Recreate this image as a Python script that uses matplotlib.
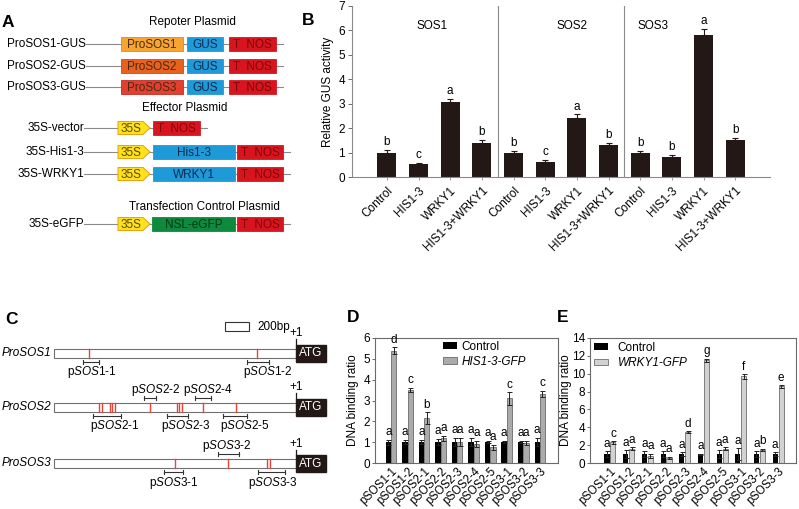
import numpy as np
import matplotlib
matplotlib.use('Agg')
import matplotlib.pyplot as plt
from matplotlib.patches import Rectangle, Polygon

plt.rcParams['font.family'] = ['Liberation Sans', 'DejaVu Sans']
plt.rcParams['mathtext.fontset'] = 'custom'
plt.rcParams['mathtext.rm'] = 'Liberation Sans'
plt.rcParams['mathtext.it'] = 'Liberation Sans:italic'
plt.rcParams['font.size'] = 8.5

W, H = 799, 509

# ---------------- data ----------------
# panel B: relative GUS activity
gus_treat = ['Control', 'HIS1-3', 'WRKY1', 'HIS1-3+WRKY1']
gus_genes = ['SOS1', 'SOS2', 'SOS3']
gus_mean = [1.0, 0.52, 3.05, 1.38,
            1.0, 0.60, 2.42, 1.30,
            1.0, 0.80, 5.80, 1.52]
gus_err = [0.12, 0.07, 0.13, 0.12,
           0.08, 0.08, 0.14, 0.10,
           0.08, 0.12, 0.25, 0.08]
gus_letters = ['b', 'c', 'a', 'b', 'b', 'c', 'a', 'b', 'b', 'b', 'a', 'b']

# panels D/E: ChIP fragments
frag_names = ['SOS1-1', 'SOS1-2', 'SOS2-1', 'SOS2-2', 'SOS2-3',
              'SOS2-4', 'SOS2-5', 'SOS3-1', 'SOS3-2', 'SOS3-3']
d_ctrl = [1.0, 1.0, 1.0, 1.0, 1.0, 1.0, 1.02, 1.0, 1.0, 1.0]
d_ctrl_err = [0.12, 0.1, 0.1, 0.15, 0.2, 0.2, 0.05, 0.06, 0.06, 0.2]
d_his = [5.4, 3.5, 2.15, 1.18, 1.0, 0.9, 0.75, 3.1, 0.95, 3.3]
d_his_err = [0.15, 0.1, 0.28, 0.12, 0.2, 0.15, 0.12, 0.3, 0.1, 0.15]
d_let_ctrl = list('aaaaaaaaaa')
d_let_his = list('dcbaaaacac')

e_ctrl = [1.0, 1.0, 1.0, 1.0, 1.0, 1.0, 1.0, 1.0, 1.0, 1.0]
e_ctrl_err = [0.3, 0.45, 0.3, 0.3, 0.2, 0.05, 0.45, 0.65, 0.3, 0.2]
e_wrky = [2.3, 1.6, 0.8, 0.6, 3.45, 11.5, 1.6, 9.7, 1.5, 8.6]
e_wrky_err = [0.15, 0.15, 0.25, 0.1, 0.08, 0.2, 0.15, 0.25, 0.1, 0.15]
e_let_ctrl = list('aaaaaaaaaa')
e_let_wrky = list('caaadgafbe')

# panel C: promoter maps (bp upstream of ATG)
prom_len = 2000
sos1_sites = [-1711, -325]
sos2_sites = [-1626, -1603, -1537, -1518, -1496, -1207, -986, -964, -942, -766, -498]
sos3_sites = [-1000, -560, -237, -215]
# (name, start, end, above)
sos1_frags = [('1-1', -1763, -1631, False), ('1-2', -402, -221, False)]
sos2_frags = [('2-1', -1675, -1449, False), ('2-2', -1254, -1160, True),
              ('2-3', -1066, -890, False), ('2-4', -835, -702, True),
              ('2-5', -601, -402, False)]
sos3_frags = [('3-1', -1091, -931, False), ('3-2', -642, -471, True),
              ('3-3', -312, -91, False)]
label_dx = {'1-1': 1, '1-2': 10, '2-1': 8, '2-2': 6, '2-3': 8, '2-4': 5,
            '2-5': 10, '3-1': 0, '3-2': -2, '3-3': 1}


def frag_label(name):
    gene, num = name.split('-')
    return r'p$\it{' + gene + '}$-' + num


def px_rect(x0, y0, x1, y1):
    return [x0 / W, 1 - y1 / H, (x1 - x0) / W, (y1 - y0) / H]


fig = plt.figure(figsize=(W / 100, H / 100), dpi=100)

# overlay in pixel coordinates for the diagrams
ov = fig.add_axes([0, 0, 1, 1], zorder=0)
ov.set_xlim(0, W)
ov.set_ylim(H, 0)
ov.axis('off')

for lab, x, y in [('A', 8, 22), ('B', 308, 20), ('C', 11, 319), ('D', 353, 318), ('E', 563, 318)]:
    ov.text(x, y, lab, fontsize=12.5, fontweight='bold', ha='center', va='center')

# ---------------- panel A ----------------
BLUE = '#1E9AD8'
TNOS = '#D8141F'


def line(x0, x1, y):
    ov.plot([x0, x1], [y, y], color='#8a8a8a', lw=0.8, zorder=1)


def box(x0, x1, y, fc, text, tc, ec=None, h=14.5):
    ov.add_patch(Rectangle((x0, y - h / 2), x1 - x0, h, facecolor=fc,
                           edgecolor=ec or fc, lw=0.6, zorder=2))
    ov.text((x0 + x1) / 2, y + 0.5, text, ha='center', va='center',
            color=tc, fontsize=8.5, zorder=3)


def arrow35s(x0, x1, y, h=13):
    pts = [(x0, y - h / 2), (x1 - 7, y - h / 2), (x1, y), (x1 - 7, y + h / 2), (x0, y + h / 2)]
    ov.add_patch(Polygon(pts, closed=True, facecolor='#FFE11C', edgecolor='#E8A010', lw=0.7, zorder=2))
    ov.text((x0 + x1 - 6) / 2, y + 0.5, '35S', ha='center', va='center', color='#5a4800',
            fontsize=8.5, zorder=3)


ov.text(192, 22, 'Repoter Plasmid', ha='center', va='center')
rep_rows = [('ProSOS1-GUS', 'ProSOS1', '#F6A531', '#E08A1A', 44),
            ('ProSOS2-GUS', 'ProSOS2', '#E8611F', '#D04A10', 66),
            ('ProSOS3-GUS', 'ProSOS3', '#E43E30', '#C82A20', 87)]
for lab, pro, fc, ec, y in rep_rows:
    ov.text(86, y, lab, ha='right', va='center')
    line(86, 283, y)
    box(121, 183, y, fc, pro, '#4a2a10', ec)
    box(187, 223, y, BLUE, 'GUS', '#0c2a50')
    box(229, 276, y, TNOS, 'T  NOS', '#7a0808')

ov.text(185, 108, 'Effector Plasmid', ha='center', va='center')
ov.text(84, 128, '35S-vector', ha='right', va='center')
line(84, 207, 128)
arrow35s(118, 150, 128)
box(153, 200, 128, TNOS, 'T  NOS', '#7a0808')
for lab, gene, y in [('35S-His1-3', 'His1-3', 152), ('35S-WRKY1', 'WRKY1', 174)]:
    ov.text(84, y, lab, ha='right', va='center')
    line(84, 290, y)
    arrow35s(118, 150, y)
    box(153, 235, y, BLUE, gene, '#0c2a50')
    box(237, 283, y, TNOS, 'T  NOS', '#7a0808')

ov.text(204, 207, 'Transfection Control Plasmid', ha='center', va='center')
ov.text(84, 224, '35S-eGFP', ha='right', va='center')
line(84, 290, 224)
arrow35s(118, 150, 224)
box(152, 235, 224, '#0D8A3C', 'NSL-eGFP', '#06381a')
box(237, 283, 224, TNOS, 'T  NOS', '#7a0808')

# ---------------- panel C ----------------
atg_x = 296
px_per_bp = 242 / prom_len


def bpx(bp):
    return atg_x + bp * px_per_bp


ov.add_patch(Rectangle((225, 322), 200 * px_per_bp, 9, facecolor='white', edgecolor='#333', lw=0.8))
ov.text(257, 327, '200bp', ha='left', va='center')

c_rows = [('SOS1', 353, sos1_sites, sos1_frags),
          ('SOS2', 407, sos2_sites, sos2_frags),
          ('SOS3', 463.5, sos3_sites, sos3_frags)]
for gene, y, sites, frags in c_rows:
    ov.text(51, y, 'Pro' + gene, ha='right', va='center', style='italic')
    ov.add_patch(Rectangle((bpx(-prom_len), y - 4.5), prom_len * px_per_bp, 9,
                           facecolor='white', edgecolor='#707070', lw=0.8, zorder=1))
    for s in sites:
        ov.plot([bpx(s)] * 2, [y - 4.5, y + 4.5], color='#E4473C', lw=1.0, zorder=2)
    ov.add_patch(Rectangle((atg_x, y - 8.5), 30, 17, facecolor='#231815', edgecolor='#231815', zorder=2))
    ov.text(atg_x + 15, y + 0.5, 'ATG', color='white', ha='center', va='center', fontsize=8.5, zorder=3)
    ov.plot([atg_x, atg_x], [y - 8.5, y - 14], color='#231815', lw=0.9)
    ov.text(atg_x, y - 13.5, '+1', ha='center', va='bottom')
    for num, b0, b1, above in frags:
        yb = y - 9.5 if above else y + 8.5
        ov.plot([bpx(b0), bpx(b1)], [yb, yb], color='#333', lw=0.8)
        for b in (b0, b1):
            ov.plot([bpx(b)] * 2, [yb - 2, yb + 2], color='#333', lw=0.8)
        yl = y - 17 if above else y + 19.5
        xc = (bpx(b0) + bpx(b1)) / 2 + label_dx[num]
        ov.text(xc, yl, frag_label('SOS' + num), ha='center', va='center')

# ---------------- panel B ----------------
axB = fig.add_axes(px_rect(352, 6, 770, 177))
xb = np.arange(len(gus_mean))
axB.bar(xb, gus_mean, width=0.6, color='#231815',
        yerr=[np.zeros(len(gus_err)), gus_err],
        error_kw=dict(ecolor='#231815', elinewidth=0.8, capsize=2.5, capthick=0.8))
for xi, m, e, l in zip(xb, gus_mean, gus_err, gus_letters):
    axB.text(xi, m + e + 0.08, l, ha='center', va='bottom', fontsize=8.5)
for xd in (3.5, 7.5):
    axB.plot([xd, xd], [0, 7], color='#8a8a8a', lw=0.8)
for i, g in enumerate(gus_genes):
    axB.text([1.42, 5.85, 8.4][i], 6.2, g, ha='center', va='center', fontsize=8.5)
axB.set_xlim(-1.1, 12.1)
axB.set_ylim(0, 7)
axB.set_yticks(range(8))
axB.set_xticks(xb)
axB.set_xticklabels(gus_treat * 3, rotation=45, ha='right', rotation_mode='anchor', fontsize=8.5)
axB.tick_params(axis='x', length=2.5, width=0.6, color='#8a8a8a', pad=3)
axB.tick_params(axis='y', length=3, width=0.6, color='#555', pad=2, labelsize=8.5)
for s in ('top', 'right'):
    axB.spines[s].set_visible(False)
for s in ('left', 'bottom'):
    axB.spines[s].set_color('#8a8a8a')
    axB.spines[s].set_linewidth(0.8)
axB.set_ylabel('Relative GUS activity', fontsize=8.5)
axB.yaxis.set_label_coords(-0.043, 0.5)


# ---------------- panels D, E ----------------
def chip_panel(rect, ctrl, ctrl_err, trt, trt_err, let_c, let_t, ymax, ystep,
               xlim, width, grey, trt_name, leg_anchor, txt_pad, label_x, pad):
    ax = fig.add_axes(px_rect(*rect))
    g = np.arange(len(ctrl))
    ek = dict(ecolor='#222', elinewidth=0.7, capsize=1.8, capthick=0.7)
    ax.bar(g - 0.16, ctrl, width, color='black', yerr=ctrl_err, error_kw=ek, label='Control')
    ax.bar(g + 0.16, trt, width, color=grey, edgecolor='#555', linewidth=0.5,
           yerr=trt_err, error_kw=ek, label=trt_name)
    for gi in g:
        ax.text(gi - 0.16, ctrl[gi] + ctrl_err[gi] + pad, let_c[gi], ha='center', va='bottom', fontsize=8.5)
        ax.text(gi + 0.16, trt[gi] + trt_err[gi] + pad, let_t[gi], ha='center', va='bottom', fontsize=8.5)
    ax.set_xlim(*xlim)
    ax.set_ylim(0, ymax)
    ax.set_yticks(np.arange(0, ymax + 0.1, ystep))
    ax.set_xticks(g)
    ax.set_xticklabels(['p' + n for n in frag_names], rotation=45, ha='right',
                       rotation_mode='anchor', fontsize=8.3)
    ax.tick_params(axis='x', length=0, pad=1.5)
    ax.tick_params(axis='y', length=2.5, width=0.6, color='#555', pad=1, labelsize=8.5)
    for s in ax.spines.values():
        s.set_color('#6a6a6a')
        s.set_linewidth(0.8)
    ax.legend(loc='upper left', bbox_to_anchor=leg_anchor, frameon=False, fontsize=8.5,
              handlelength=1.2, handleheight=0.5, handletextpad=txt_pad, labelspacing=0.3,
              borderpad=0, borderaxespad=0)
    leg = ax.get_legend()
    leg.get_texts()[1].set_style('italic')
    ax.set_ylabel('DNA binding ratio', fontsize=8.5)
    ax.yaxis.set_label_coords(label_x, 0.5)
    return ax


chip_panel((375, 338, 558, 463), d_ctrl, d_ctrl_err, d_his, d_his_err, d_let_ctrl, d_let_his,
           6, 1, (-0.97, 10.1), 0.32, '#ababab', 'HIS1-3-GFP', (0.37, 0.98), 0.4, -0.09, 0.08)
chip_panel((590, 338, 796, 463), e_ctrl, e_ctrl_err, e_wrky, e_wrky_err, e_let_ctrl, e_let_wrky,
           14, 2, (-1.07, 9.96), 0.27, '#d2d2d2', 'WRKY1-GFP', (0.02, 0.97), 0.8, -0.086, 0.15)

fig.savefig('out.png', dpi=100)
